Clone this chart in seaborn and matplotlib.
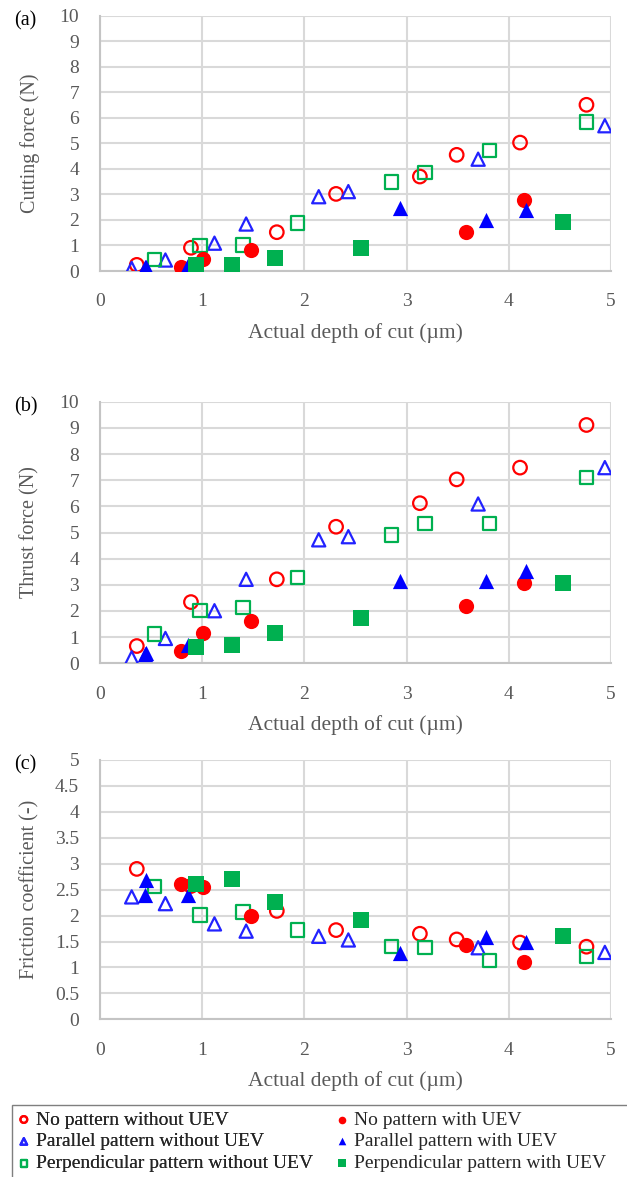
import matplotlib
matplotlib.use("Agg")
import matplotlib.pyplot as plt
from matplotlib.patches import Rectangle
import seaborn as sns
import pandas as pd

# depth of cut (um) for each series
x_open_circle = [0.36, 0.89, 1.73, 2.31, 3.13, 3.49, 4.11, 4.76]
x_fill_circle = [0.79, 1.01, 1.48, 3.58, 4.15]
x_open_tri = [0.31, 0.64, 1.12, 1.43, 2.14, 2.43, 3.70, 4.94]
x_fill_tri = [0.45, 0.44, 0.86, 2.94, 3.78, 4.17]
x_open_sq = [0.53, 0.98, 1.40, 1.93, 2.85, 3.18, 3.81, 4.76]
x_fill_sq = [0.94, 1.29, 1.71, 2.55, 4.53]

# (a) cutting force (N)
fc_open_circle = [0.24, 0.91, 1.52, 3.02, 3.70, 4.55, 5.03, 6.51]
fc_fill_circle = [0.17, 0.46, 0.82, 1.54, 2.78]
fc_open_tri = [0.10, 0.43, 1.09, 1.84, 2.91, 3.11, 4.38, 5.69]
fc_fill_tri = [0.17, 0.14, 0.24, 2.46, 2.00, 2.39]
fc_open_sq = [0.46, 0.99, 1.02, 1.88, 3.48, 3.87, 4.72, 5.84]
fc_fill_sq = [0.24, 0.24, 0.52, 0.91, 1.91]

# (b) thrust force (N)
ft_open_circle = [0.66, 2.34, 3.21, 5.22, 6.12, 7.03, 7.48, 9.11]
ft_fill_circle = [0.48, 1.15, 1.63, 2.20, 3.08]
ft_open_tri = [0.21, 0.95, 2.01, 3.21, 4.72, 4.84, 6.09, 7.48]
ft_fill_tri = [0.40, 0.36, 0.70, 3.16, 3.16, 3.53]
ft_open_sq = [1.12, 2.03, 2.13, 3.27, 4.91, 5.35, 5.35, 7.10]
ft_fill_sq = [0.64, 0.70, 1.17, 1.74, 3.08]

# (c) friction coefficient (-)
mu_open_circle = [2.90, 2.57, 2.09, 1.72, 1.65, 1.54, 1.48, 1.40]
mu_fill_circle = [2.61, 2.55, 2.00, 1.43, 1.11]
mu_open_tri = [2.36, 2.23, 1.84, 1.70, 1.60, 1.53, 1.38, 1.29]
mu_fill_tri = [2.69, 2.40, 2.40, 1.27, 1.58, 1.49]
mu_open_sq = [2.56, 2.01, 2.07, 1.72, 1.40, 1.38, 1.13, 1.21]
mu_fill_sq = [2.61, 2.71, 2.26, 1.92, 1.61]

labels = ['No pattern without UEV', 'Parallel pattern without UEV',
          'Perpendicular pattern without UEV', 'No pattern with UEV',
          'Parallel pattern with UEV', 'Perpendicular pattern with UEV']
xs = [x_open_circle, x_open_tri, x_open_sq, x_fill_circle, x_fill_tri, x_fill_sq]
panels = [
    ([fc_open_circle, fc_open_tri, fc_open_sq, fc_fill_circle, fc_fill_tri, fc_fill_sq],
     'Cutting force (N)', '(a)', list(range(0, 11)), 10),
    ([ft_open_circle, ft_open_tri, ft_open_sq, ft_fill_circle, ft_fill_tri, ft_fill_sq],
     'Thrust force (N)', '(b)', list(range(0, 11)), 10),
    ([mu_open_circle, mu_open_tri, mu_open_sq, mu_fill_circle, mu_fill_tri, mu_fill_sq],
     'Friction coefficient (-)', '(c)', [i * 0.5 for i in range(11)], 5),
]
ytick_text = [[str(v) for v in range(11)], [str(v) for v in range(11)],
              ['0', '0.5', '1', '1.5', '2', '2.5', '3', '3.5', '4', '4.5', '5']]

styles = [('o', '#ff0000', True), ('^', '#2222ff', True), ('s', '#00b050', True),
          ('o', '#ff0000', False), ('^', '#0000ff', False), ('s', '#00b050', False)]
sizes = [95, 90, 92, 120, 120, 118]

sns.set_theme(style='white')
plt.rcParams['font.family'] = ['Liberation Serif', 'DejaVu Serif']

fig = plt.figure(figsize=(6.27, 11.77), dpi=100)
W, H = 627, 1177
boxes = [(15.7, 271), (401.7, 663.3), (760, 1019.3)]
grey = '#595959'
handles = []

for k, (ys, ylab, tag, yticks, ymax) in enumerate(panels):
    top, bot = boxes[k]
    ax = fig.add_axes([100 / W, 1 - bot / H, 511 / W, (bot - top) / H])
    for i in range(6):
        df = pd.DataFrame({'x': xs[i], 'y': ys[i]})
        m, c, hollow = styles[i]
        if hollow:
            sns.scatterplot(data=df, x='x', y='y', ax=ax, marker=m, s=sizes[i],
                            color=c, facecolors='none', edgecolor=c, linewidth=1.6,
                            label=labels[i], legend=False, zorder=3)
        else:
            sns.scatterplot(data=df, x='x', y='y', ax=ax, marker=m, s=sizes[i],
                            color=c, edgecolor=c, linewidth=0,
                            label=labels[i], legend=False, zorder=3)
    if k == 0:
        handles = ax.collections[:]
    ax.set_xlim(0, 5)
    ax.set_ylim(0, ymax)
    ax.set_xticks(range(6))
    ax.set_yticks(yticks)
    ax.set_yticklabels(ytick_text[k])
    ax.grid(True, color='#d9d9d9', linewidth=1.5)
    ax.set_axisbelow(True)
    for s in ['top', 'right']:
        ax.spines[s].set_visible(False)
    for s in ['left', 'bottom']:
        ax.spines[s].set_color('#c4c4c4')
        ax.spines[s].set_linewidth(1.5)
    ax.tick_params(axis='both', length=0, labelsize=14, colors=grey)
    ax.tick_params(axis='y', pad=15)
    ax.tick_params(axis='x', pad=16)
    ax.set_xlabel('Actual depth of cut (\u00b5m)', fontsize=15.5, color=grey, labelpad=9)
    ax.set_ylabel(ylab, fontsize=14.5, color=grey)
    ax.yaxis.set_label_coords(-0.118, 0.5)
    fig.text(14 / W, 1 - (top + 5) / H, tag, fontsize=14.5, color='black', va='center')

# legend box, open at the right and bottom edges like the source
fig.patches.append(Rectangle((12 / W, -0.01), 1.0, 1 - 1105 / H + 0.01,
                             transform=fig.transFigure, fill=False,
                             edgecolor='#7f7f7f', linewidth=1.0))
leg_kw = dict(loc='upper left', markerscale=0.5, fontsize=14, frameon=False,
              borderaxespad=0, borderpad=0, handletextpad=0.35, labelspacing=0.22,
              handlelength=0.6)
leg1 = fig.legend(handles[:3], labels[:3], bbox_to_anchor=(18 / W, 1 - 1111 / H), **leg_kw)
fig.add_artist(leg1)
fig.legend(handles[3:], labels[3:], bbox_to_anchor=(336 / W, 1 - 1111 / H), **leg_kw)

fig.savefig('out.png', dpi=100)
